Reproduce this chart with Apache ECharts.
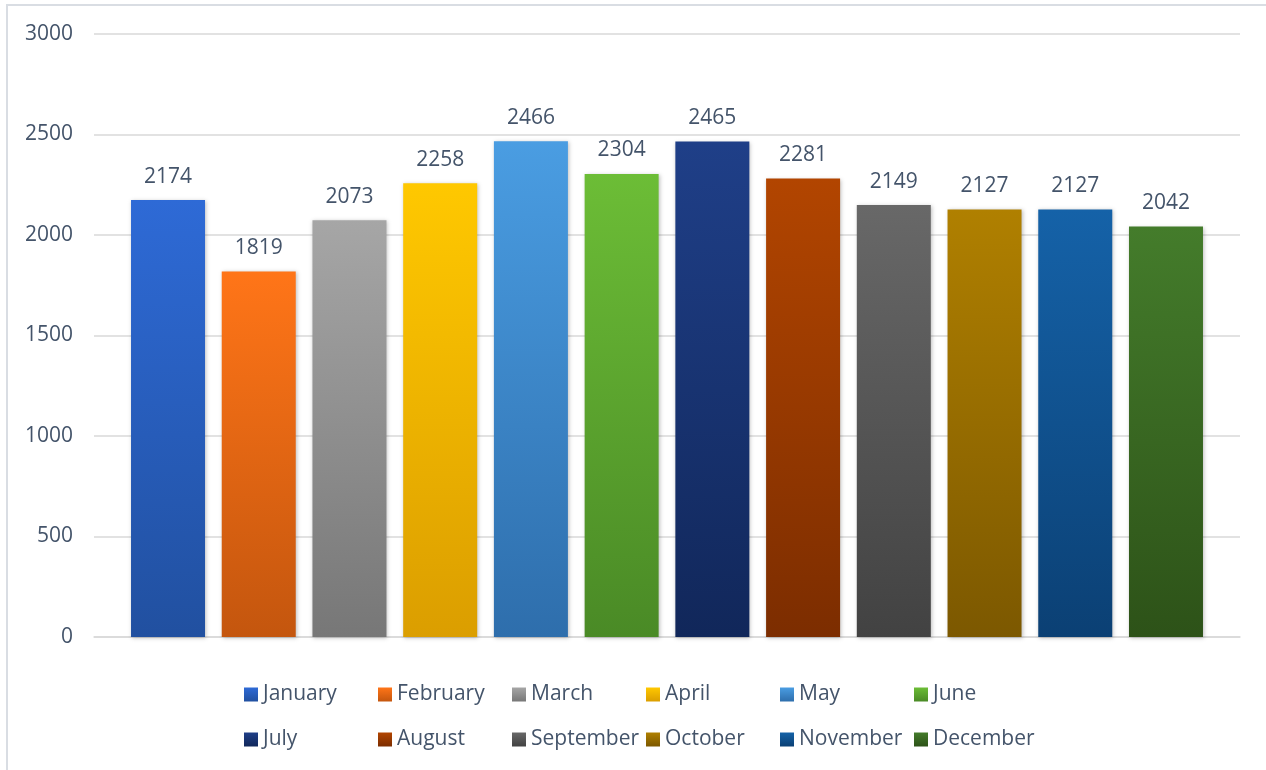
<!DOCTYPE html>
<html><head><meta charset="utf-8">
<script src="https://cdn.jsdelivr.net/npm/echarts@6/dist/echarts.min.js"></script>
<style>html,body{margin:0;padding:0;background:#fff}#c{width:1266px;height:770px}</style>
</head><body><div id="c"></div>
<script>
const months = ['January','February','March','April','May','June','July','August','September','October','November','December'];
const values = [2174, 1819, 2073, 2258, 2466, 2304, 2465, 2281, 2149, 2127, 2127, 2042];
const topColors = ['#2E6AD6','#FF7518','#A6A6A6','#FFC800','#4A9DE2','#6CBD36','#1F3F88','#B24500','#686868','#B08000','#1562A8','#447C2B'];
const bottomColors = ['#2150A0','#C4560E','#777777','#DB9E00','#2E6EAC','#4A8A26','#11275A','#7C2D00','#424242','#7C5800','#0B4074','#2D5218'];
const yTicks = [0, 500, 1000, 1500, 2000, 2500, 3000];

const FONT = '"Open Sans", "Liberation Sans", sans-serif';
const TXT = '#44546A';

const series = months.map((m, i) => ({
  name: m,
  type: 'bar',
  data: [values[i]],
  barWidth: 74,
  barGap: '22.6%',
  itemStyle: {
    color: new echarts.graphic.LinearGradient(0, 0, 0, 1, [
      {offset: 0, color: topColors[i]},
      {offset: 1, color: bottomColors[i]}
    ]),
    shadowColor: 'rgba(0,0,0,0.25)',
    shadowBlur: 4,
    shadowOffsetX: 1,
    shadowOffsetY: 1
  },
  label: {
    show: true, position: 'top', distance: 13,
    color: TXT, fontSize: 21, fontFamily: FONT
  }
}));

const legends = months.map((m, i) => ({
  data: [m],
  left: 244 + (i % 6) * 134,
  top: i < 6 ? 684 : 729,
  icon: 'rect',
  itemWidth: 14, itemHeight: 14,
  itemGap: 0, padding: 0,
  selectedMode: false,
  textStyle: {color: TXT, fontSize: 21, fontFamily: FONT, padding: [0,0,0,0]}
}));

const chart = echarts.init(document.getElementById('c'), null, {renderer: 'canvas'});
chart.setOption({
  animation: false,
  backgroundColor: '#fff',
  graphic: [{
    type: 'rect', silent: true,
    shape: {x: 7, y: 5, width: 1400, height: 900},
    style: {fill: 'none', stroke: '#D9DDE3', lineWidth: 2}
  }],
  grid: {left: 94, right: 26, top: 34, bottom: 133, containLabel: false},
  legend: legends,
  xAxis: {
    type: 'category', data: ['Total'],
    axisLine: {show: true, lineStyle: {color: '#D9D9D9', width: 1.5}},
    axisTick: {show: false}, axisLabel: {show: false}
  },
  yAxis: {
    type: 'value', min: yTicks[0], max: yTicks[yTicks.length - 1], interval: 500,
    axisLine: {show: false}, axisTick: {show: false},
    axisLabel: {color: TXT, fontSize: 21, fontFamily: FONT, margin: 21, formatter: v => String(v)},
    splitLine: {lineStyle: {color: '#D9D9D9', width: 1.5}}
  },
  series: series
});
</script></body></html>
